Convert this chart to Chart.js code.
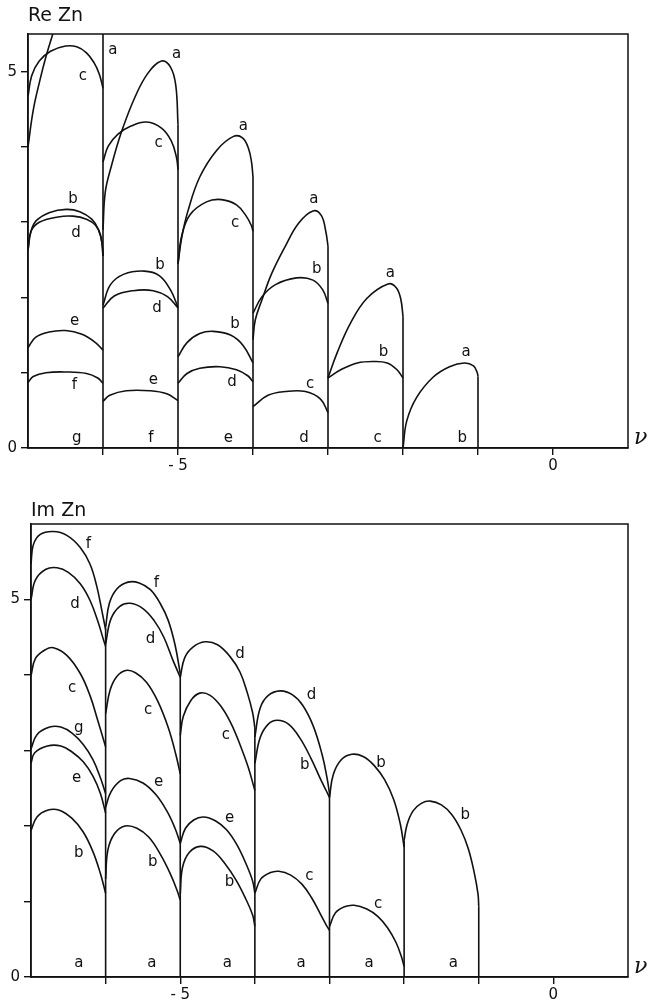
<!DOCTYPE html>
<html>
<head>
<meta charset="utf-8">
<script src="https://cdn.jsdelivr.net/npm/chart.js@4.4.1/dist/chart.umd.min.js"></script>
<style>
  body { margin: 0; background: #fff; width: 648px; height: 1005px; overflow: hidden; }
  #re { position: absolute; left: 0; top: 0; }
  #im { position: absolute; left: 0; top: 495px; }
</style>
</head>
<body>
<canvas id="re" width="648" height="495"></canvas>
<canvas id="im" width="648" height="510"></canvas>
<script>
// ---- Re Zn (upper panel), points as [nu, value] ----
const reA7 = [[-7,4.0],[-6.93,4.49],[-6.84,4.89],[-6.76,5.2],[-6.67,5.5],[-6.6,5.75]];
const reC7 = [[-7,4.67],[-6.95,4.95],[-6.85,5.14],[-6.7,5.27],[-6.5,5.34],[-6.35,5.33],[-6.22,5.25],[-6.12,5.12],[-6.05,4.97],[-6,4.78]];
const reB7 = [[-7,2.63],[-6.96,2.88],[-6.89,3.02],[-6.71,3.13],[-6.49,3.17],[-6.31,3.14],[-6.15,3.04],[-6.06,2.9],[-6.01,2.7],[-6,2.55]];
const reD7 = [[-7,2.63],[-6.96,2.88],[-6.85,3.0],[-6.6,3.07],[-6.4,3.08],[-6.22,3.04],[-6.1,2.96],[-6.03,2.82],[-6,2.55]];
const reE7 = [[-7,1.33],[-6.9,1.47],[-6.72,1.54],[-6.5,1.56],[-6.28,1.51],[-6.1,1.4],[-6,1.3]];
const reF7 = [[-7,0.87],[-6.93,0.95],[-6.76,1.0],[-6.49,1.01],[-6.22,0.99],[-6.07,0.93],[-6,0.86]];

const reA6 = [[-6,2.9],[-5.97,3.4],[-5.89,3.74],[-5.75,4.21],[-5.57,4.67],[-5.4,4.98],[-5.22,5.14],[-5.1,5.06],[-5.03,4.82],[-5,4.3]];
const reC6 = [[-6,3.8],[-5.93,4.01],[-5.8,4.17],[-5.62,4.28],[-5.42,4.33],[-5.22,4.25],[-5.09,4.08],[-5.02,3.86],[-5,3.7]];
const reB6 = [[-6,1.9],[-5.9,2.17],[-5.72,2.31],[-5.45,2.35],[-5.25,2.29],[-5.1,2.1],[-5,1.87]];
const reD6 = [[-6,1.86],[-5.85,2.02],[-5.6,2.09],[-5.33,2.09],[-5.14,2.01],[-5,1.86]];
const reE6 = [[-6,0.62],[-5.91,0.7],[-5.69,0.76],[-5.37,0.76],[-5.15,0.72],[-5,0.63]];

const reA5 = [[-5,2.45],[-4.95,2.8],[-4.87,3.14],[-4.71,3.6],[-4.48,3.96],[-4.26,4.14],[-4.14,4.12],[-4.06,3.98],[-4.02,3.8],[-4,3.6]];
const reC5 = [[-5,2.45],[-4.95,2.82],[-4.84,3.1],[-4.62,3.27],[-4.42,3.3],[-4.22,3.23],[-4.09,3.08],[-4.02,2.95],[-4,2.88]];
const reB5 = [[-5,1.21],[-4.88,1.4],[-4.71,1.52],[-4.53,1.55],[-4.3,1.5],[-4.13,1.36],[-4,1.13]];
const reD5 = [[-5,0.86],[-4.88,0.99],[-4.71,1.06],[-4.44,1.08],[-4.22,1.04],[-4.07,0.96],[-4,0.88]];

const reA4 = [[-4,1.44],[-3.97,1.7],[-3.88,1.97],[-3.75,2.32],[-3.57,2.68],[-3.39,2.99],[-3.2,3.15],[-3.09,3.09],[-3.03,2.88],[-3,2.68]];
const reB4 = [[-4,1.79],[-3.88,2.01],[-3.7,2.17],[-3.42,2.26],[-3.2,2.23],[-3.07,2.1],[-3,1.92]];
const reC4 = [[-4,0.55],[-3.8,0.7],[-3.57,0.75],[-3.3,0.75],[-3.1,0.65],[-3,0.47]];

const reA3 = [[-3,0.93],[-2.88,1.26],[-2.7,1.66],[-2.48,1.99],[-2.2,2.18],[-2.09,2.13],[-2.03,1.98],[-2,1.75]];
const reB3 = [[-3,0.93],[-2.83,1.04],[-2.61,1.13],[-2.39,1.15],[-2.21,1.13],[-2.08,1.04],[-2,0.93]];

const reA2 = [[-2,0],[-1.95,0.36],[-1.82,0.67],[-1.6,0.94],[-1.38,1.08],[-1.18,1.13],[-1.06,1.09],[-1.01,1.0],[-1.0,0.95]];

// vertical jumps at the integers: [nu, top]
const reWalls = [[-6,5.5],[-5,4.3],[-4,3.6],[-3,2.68],[-2,1.75],[-1,0.95]];

const reLabels = [
  [-5.87,5.29,'a'],[-6.27,4.94,'c'],[-5.02,5.23,'a'],[-5.26,4.05,'c'],[-4.13,4.28,'a'],[-4.24,2.99,'c'],
  [-6.4,3.31,'b'],[-6.36,2.85,'d'],[-3.19,3.3,'a'],[-5.24,2.43,'b'],[-5.28,1.86,'d'],[-6.38,1.68,'e'],
  [-6.38,0.84,'f'],[-5.33,0.9,'e'],[-4.24,1.64,'b'],[-4.28,0.88,'d'],[-3.15,2.37,'b'],[-3.24,0.85,'c'],
  [-2.17,2.33,'a'],[-2.26,1.28,'b'],[-1.16,1.28,'a'],
  [-6.35,0.13,'g'],[-5.36,0.13,'f'],[-4.33,0.13,'e'],[-3.32,0.13,'d'],[-2.34,0.13,'c'],[-1.21,0.13,'b']
];

// ---- Im Zn (lower panel) ----
const imF7 = [[-7,5.47],[-6.97,5.72],[-6.88,5.86],[-6.7,5.9],[-6.52,5.85],[-6.34,5.69],[-6.21,5.47],[-6.12,5.18],[-6.05,4.85],[-6,4.6]];
const imD7 = [[-7,5.0],[-6.94,5.26],[-6.8,5.4],[-6.65,5.42],[-6.5,5.36],[-6.34,5.21],[-6.21,4.99],[-6.1,4.7],[-6.03,4.47],[-6,4.38]];
const imC7 = [[-7,3.99],[-6.94,4.22],[-6.8,4.34],[-6.7,4.36],[-6.52,4.26],[-6.34,4.02],[-6.21,3.73],[-6.1,3.38],[-6,3.05]];
const imG7 = [[-7,3.02],[-6.92,3.21],[-6.75,3.31],[-6.6,3.31],[-6.45,3.23],[-6.3,3.08],[-6.17,2.88],[-6.07,2.64],[-6,2.43]];
const imE7 = [[-7,2.83],[-6.95,2.97],[-6.78,3.06],[-6.6,3.06],[-6.45,2.98],[-6.3,2.85],[-6.17,2.66],[-6.07,2.43],[-6,2.17]];
const imB7 = [[-7,1.94],[-6.92,2.12],[-6.78,2.21],[-6.62,2.21],[-6.45,2.1],[-6.3,1.92],[-6.17,1.66],[-6.07,1.37],[-6,1.11]];

const imF6 = [[-6,4.63],[-5.95,4.95],[-5.85,5.14],[-5.7,5.23],[-5.55,5.22],[-5.4,5.13],[-5.27,4.95],[-5.16,4.72],[-5.07,4.4],[-5,4.02]];
const imD6 = [[-6,4.41],[-5.93,4.74],[-5.81,4.91],[-5.67,4.95],[-5.5,4.88],[-5.35,4.72],[-5.22,4.5],[-5.1,4.2],[-5,3.97]];
const imC6 = [[-6,3.49],[-5.94,3.8],[-5.85,3.98],[-5.73,4.06],[-5.6,4.03],[-5.45,3.9],[-5.3,3.65],[-5.16,3.3],[-5.06,2.95],[-5,2.69]];
const imE6 = [[-6,2.25],[-5.93,2.45],[-5.8,2.6],[-5.68,2.63],[-5.5,2.57],[-5.33,2.42],[-5.18,2.2],[-5.07,1.97],[-5,1.77]];
const imB6 = [[-6,1.3],[-5.97,1.68],[-5.88,1.9],[-5.74,2.0],[-5.58,1.97],[-5.42,1.85],[-5.27,1.63],[-5.13,1.36],[-5.04,1.14],[-5,1.02]];

const imD5 = [[-5,3.97],[-4.94,4.23],[-4.83,4.37],[-4.67,4.44],[-4.5,4.4],[-4.33,4.24],[-4.2,4.04],[-4.1,3.76],[-4.03,3.5],[-4,3.3]];
const imC5 = [[-5,3.2],[-4.96,3.45],[-4.86,3.66],[-4.74,3.76],[-4.6,3.73],[-4.45,3.58],[-4.32,3.36],[-4.2,3.08],[-4.09,2.78],[-4,2.47]];
const imE5 = [[-5,1.77],[-4.93,1.97],[-4.82,2.08],[-4.69,2.12],[-4.53,2.07],[-4.38,1.95],[-4.24,1.75],[-4.11,1.48],[-4.03,1.27],[-4,1.11]];
const imB5 = [[-5,1.1],[-4.97,1.45],[-4.88,1.65],[-4.73,1.73],[-4.56,1.67],[-4.4,1.5],[-4.25,1.28],[-4.12,1.03],[-4.03,0.82],[-4,0.67]];

const imD4 = [[-4,3.18],[-3.93,3.56],[-3.82,3.73],[-3.66,3.79],[-3.5,3.74],[-3.36,3.6],[-3.22,3.33],[-3.1,2.95],[-3.03,2.62],[-3,2.43]];
const imB4 = [[-4,2.83],[-3.93,3.17],[-3.82,3.35],[-3.7,3.4],[-3.55,3.35],[-3.4,3.17],[-3.25,2.9],[-3.12,2.62],[-3.04,2.46],[-3,2.38]];
const imC4 = [[-4,1.11],[-3.92,1.3],[-3.8,1.38],[-3.68,1.4],[-3.52,1.35],[-3.37,1.23],[-3.24,1.05],[-3.12,0.83],[-3.04,0.68],[-3,0.62]];

const imB3 = [[-3,2.38],[-2.95,2.68],[-2.84,2.88],[-2.7,2.95],[-2.55,2.92],[-2.4,2.8],[-2.26,2.61],[-2.14,2.35],[-2.05,2.02],[-2,1.72]];
const imC3 = [[-3,0.67],[-2.92,0.85],[-2.8,0.93],[-2.67,0.95],[-2.5,0.9],[-2.35,0.8],[-2.22,0.65],[-2.11,0.46],[-2.04,0.28],[-2,0.14]];

const imB2 = [[-2,1.81],[-1.96,2.02],[-1.88,2.2],[-1.77,2.3],[-1.65,2.33],[-1.5,2.28],[-1.36,2.15],[-1.24,1.95],[-1.14,1.7],[-1.06,1.38],[-1.01,1.1],[-1,0.93]];

const imWalls = [[-6,4.62],[-5,4.02],[-4,3.3],[-3,2.43],[-2,1.81],[-1,0.93]];

const imLabels = [
  [-6.23,5.74,'f'],[-5.32,5.22,'f'],[-6.41,4.94,'d'],[-5.4,4.47,'d'],[-4.2,4.28,'d'],[-3.24,3.73,'d'],
  [-6.45,3.83,'c'],[-5.43,3.53,'c'],[-4.39,3.2,'c'],[-6.36,3.29,'g'],
  [-6.39,2.63,'e'],[-5.29,2.58,'e'],[-4.34,2.11,'e'],
  [-6.36,1.64,'b'],[-5.37,1.52,'b'],[-4.34,1.26,'b'],[-3.27,1.33,'c'],[-3.33,2.8,'b'],
  [-2.31,2.83,'b'],[-1.18,2.14,'b'],[-2.35,0.97,'c'],
  [-6.36,0.18,'a'],[-5.38,0.18,'a'],[-4.37,0.18,'a'],[-3.38,0.18,'a'],[-2.47,0.18,'a'],[-1.34,0.18,'a']
];

const xTicks = [-6,-5,-4,-3,-2,-1,0];
const yTicks = [0,1,2,3,4,5];

const ink = '#111';
const FONT = '"DejaVu Sans", sans-serif';

function curveSet(list) {
  return list.map(pts => ({
    data: pts.map(p => ({ x: p[0], y: p[1] })),
    showLine: true, borderColor: ink, borderWidth: 1.6,
    pointRadius: 0, tension: 0.4, fill: false
  }));
}

function wallSet(walls) {
  const d = [];
  walls.forEach(w => { d.push({ x: w[0], y: 0 }, { x: w[0], y: w[1] }, { x: w[0], y: null }); });
  return { data: d, showLine: true, borderColor: ink, borderWidth: 1.6, pointRadius: 0, tension: 0, spanGaps: false };
}

// frame, title, letters and the nu label
const decor = {
  id: 'decor',
  afterDatasetsDraw(chart, args, o) {
    const ctx = chart.ctx, a = chart.chartArea;
    const xs = chart.scales.x, ys = chart.scales.y;
    ctx.save();
    ctx.strokeStyle = ink;
    ctx.lineWidth = 1.5;
    ctx.strokeRect(a.left, a.top, a.right - a.left, a.bottom - a.top);
    ctx.fillStyle = ink;
    ctx.font = '15px ' + FONT;
    ctx.textAlign = 'center';
    ctx.textBaseline = 'middle';
    o.labels.forEach(l => ctx.fillText(l[2], xs.getPixelForValue(l[0]), ys.getPixelForValue(l[1])));
    ctx.font = '19px ' + FONT;
    ctx.textAlign = 'left';
    ctx.fillText(o.title, a.left, o.titleY);
    ctx.font = 'italic 22px "DejaVu Serif", serif';
    ctx.fillText('\u03bd', a.right + 6, a.bottom - 10);
    ctx.restore();
  }
};

function makeChart(id, curves, walls, labels, title, yMax, padTop, yWidth, xHeight, titleY) {
  const datasets = curveSet(curves);
  datasets.push(wallSet(walls));
  return new Chart(document.getElementById(id), {
    type: 'scatter',
    data: { datasets },
    plugins: [decor],
    options: {
      responsive: false,
      animation: false,
      events: [],
      layout: { padding: { top: padTop, right: 20, left: 0, bottom: 0 } },
      plugins: {
        legend: { display: false },
        tooltip: { enabled: false },
        decor: { labels, title, titleY }
      },
      scales: {
        x: {
          type: 'linear', min: -7, max: 1,
          afterBuildTicks: s => { s.ticks = xTicks.map(v => ({ value: v })); },
          afterFit: s => { s.height = xHeight; },
          ticks: {
            autoSkip: false, maxRotation: 0, padding: 2, color: ink,
            font: { family: FONT, size: 15 },
            callback: v => (v === -5 || v === 0) ? (v === -5 ? '- 5' : '0') : ''
          },
          grid: { drawOnChartArea: false, drawTicks: true, tickLength: 7, color: ink, lineWidth: 1.4 },
          border: { display: true, color: ink, width: 1.5 }
        },
        y: {
          type: 'linear', min: 0, max: yMax,
          afterBuildTicks: s => { s.ticks = yTicks.map(v => ({ value: v })); },
          afterFit: s => { s.width = yWidth; },
          ticks: {
            padding: 4, color: ink,
            font: { family: FONT, size: 15 },
            callback: v => (v === 0 || v === 5) ? String(v) : ''
          },
          grid: { drawOnChartArea: false, drawTicks: true, tickLength: 7, color: ink, lineWidth: 1.4 },
          border: { display: true, color: ink, width: 1.5 }
        }
      }
    }
  });
}

makeChart('re',
  [reA7, reC7, reB7, reD7, reE7, reF7, reA6, reC6, reB6, reD6, reE6, reA5, reC5, reB5, reD5, reA4, reB4, reC4, reA3, reB3, reA2],
  reWalls, reLabels, 'Re Zn', 5.5, 34, 28, 47, 16);

makeChart('im',
  [imF7, imD7, imC7, imG7, imE7, imB7, imF6, imD6, imC6, imE6, imB6, imD5, imC5, imE5, imB5, imD4, imB4, imC4, imB3, imC3, imB2],
  imWalls, imLabels, 'Im Zn', 6, 29, 31, 28, 16);
</script>
</body>
</html>
